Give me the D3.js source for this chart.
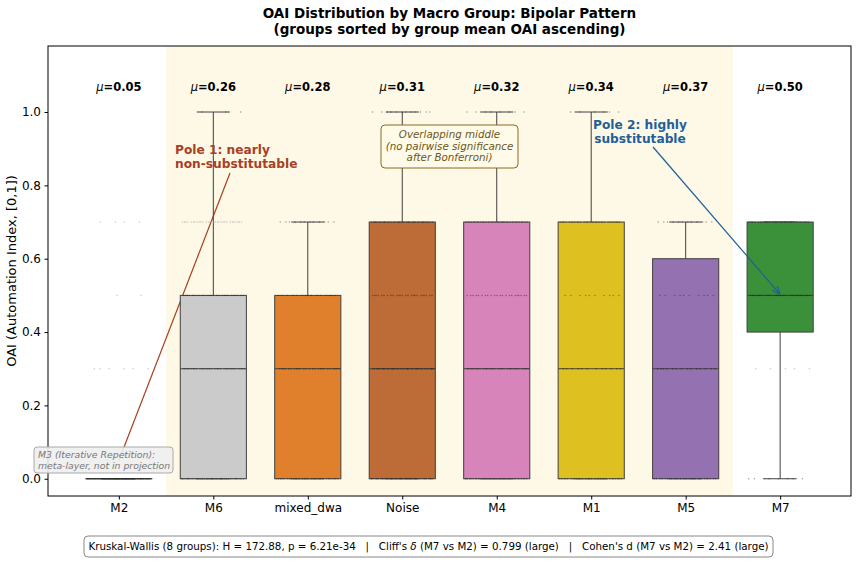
<!DOCTYPE html>
<html>
<head>
<meta charset="utf-8">
<script src="https://cdn.jsdelivr.net/npm/d3@7"></script>
<style>
  body { margin: 0; background: #fff; }
  svg { font-family: "DejaVu Sans", sans-serif; }
</style>
</head>
<body>
<script>
const groups = ['M2', 'M6', 'mixed_dwa', 'Noise', 'M4', 'M1', 'M5', 'M7'];
const means = [0.05, 0.26, 0.28, 0.31, 0.32, 0.34, 0.37, 0.50];
const q1 = [0, 0, 0, 0, 0, 0, 0, 0.4];
const medians = [0, 0.3, 0.3, 0.3, 0.3, 0.3, 0.3, 0.5];
const q3 = [0, 0.5, 0.5, 0.7, 0.7, 0.7, 0.6, 0.7];
const whiskLo = [0, 0, 0, 0, 0, 0, 0, 0];
const whiskHi = [0, 1.0, 0.7, 1.0, 1.0, 1.0, 0.7, 0.7];
const colors = ['#ffffff', '#cbcbcb', '#e0802d', '#bd6b37', '#d684ba', '#dec121', '#9471b0', '#3b913a'];
// strip points: how many observations sit at each OAI level
const levels = [0, 0.3, 0.5, 0.7, 1.0];
const counts = [
  [60, 6, 2, 4, 0],
  [40, 30, 25, 30, 3],
  [30, 25, 15, 12, 0],
  [45, 40, 25, 40, 12],
  [35, 30, 22, 35, 8],
  [30, 12, 10, 30, 6],
  [25, 14, 10, 12, 0],
  [8, 5, 30, 30, 0]
];
const outsideColor = '#bbbbbb';

const width = 858;
const height = 564;
const margin = { top: 46, right: 7, bottom: 68, left: 48 };

const x = d3.scalePoint()
  .domain(groups)
  .range([margin.left, width - margin.right])
  .padding(0.75);
const step = x.step();
const boxW = step * 0.7;

const y = d3.scaleLinear()
  .domain([-0.047, 1.18])
  .range([height - margin.bottom, margin.top]);

const svg = d3.select('body').append('svg')
  .attr('width', width)
  .attr('height', height);

// middle shading
svg.append('rect')
  .attr('x', x('M2') + step / 2)
  .attr('y', margin.top)
  .attr('width', x('M5') - x('M2'))
  .attr('height', height - margin.bottom - margin.top)
  .attr('fill', '#fef9e7');

// Pole 1 line (drawn under boxes)
svg.append('line')
  .attr('x1', 230).attr('y1', 173)
  .attr('x2', x('M2')).attr('y2', y(0.05))
  .attr('stroke', '#a6401f')
  .attr('stroke-width', 1.2);

const g = svg.append('g')
  .selectAll('g')
  .data(groups)
  .join('g')
  .attr('transform', d => `translate(${x(d)},0)`);

const edge = '#3f3f3f';

// whiskers
g.append('line')
  .attr('y1', (d, i) => y(q3[i])).attr('y2', (d, i) => y(whiskHi[i]))
  .attr('stroke', edge).attr('stroke-width', 1);
g.append('line')
  .attr('y1', (d, i) => y(q1[i])).attr('y2', (d, i) => y(whiskLo[i]))
  .attr('stroke', edge).attr('stroke-width', 1);
g.append('line')
  .attr('x1', -boxW / 4).attr('x2', boxW / 4)
  .attr('y1', (d, i) => y(whiskHi[i])).attr('y2', (d, i) => y(whiskHi[i]))
  .attr('stroke', edge).attr('stroke-width', 1);
g.append('line')
  .attr('x1', -boxW / 4).attr('x2', boxW / 4)
  .attr('y1', (d, i) => y(whiskLo[i])).attr('y2', (d, i) => y(whiskLo[i]))
  .attr('stroke', edge).attr('stroke-width', 1);

// boxes
g.append('rect')
  .attr('x', -boxW / 2)
  .attr('width', boxW)
  .attr('y', (d, i) => y(q3[i]))
  .attr('height', (d, i) => Math.max(0.01, y(q1[i]) - y(q3[i])))
  .attr('fill', (d, i) => colors[i])
  .attr('stroke', edge)
  .attr('stroke-width', 1);
g.append('line')
  .attr('x1', -boxW / 2).attr('x2', boxW / 2)
  .attr('y1', (d, i) => y(medians[i])).attr('y2', (d, i) => y(medians[i]))
  .attr('stroke', edge).attr('stroke-width', 1);

// strip points, spread with a fixed golden-ratio sequence
g.each(function (d, i) {
  const pts = [];
  levels.forEach((v, k) => {
    for (let j = 0; j < counts[i][k]; j++) pts.push({ v, j });
  });
  const outside = v => (v > q3[i] || v < q1[i]) && v !== whiskHi[i] && v !== whiskLo[i];
  d3.select(this).selectAll('circle')
    .data(pts)
    .join('circle')
    .attr('cx', p => (((p.j * 0.618 + p.v * 3.7) % 1) - 0.5) * boxW * 0.95)
    .attr('cy', p => y(p.v))
    .attr('r', 0.75)
    .attr('fill', p => outside(p.v) ? outsideColor : '#111')
    .attr('opacity', p => outside(p.v) ? 0.8 : 0.4);
});

// mean labels
const mu = svg.append('g')
  .selectAll('text')
  .data(groups)
  .join('text')
  .attr('x', d => x(d))
  .attr('y', 91)
  .attr('text-anchor', 'middle')
  .attr('font-size', 11.5)
  .attr('font-weight', 'bold');
mu.append('tspan').attr('font-style', 'italic').attr('font-weight', 'normal').text('μ');
mu.append('tspan').text((d, i) => '=' + means[i].toFixed(2));

// frame
svg.append('rect')
  .attr('x', margin.left).attr('y', margin.top)
  .attr('width', width - margin.left - margin.right)
  .attr('height', height - margin.top - margin.bottom)
  .attr('fill', 'none')
  .attr('stroke', '#000')
  .attr('stroke-width', 1);

// axes
const yAxis = g => g
  .attr('transform', `translate(${margin.left},0)`)
  .call(d3.axisLeft(y).tickValues([0, 0.2, 0.4, 0.6, 0.8, 1.0]).tickFormat(d3.format('.1f')).tickSize(3.5).tickPadding(3.5))
  .call(g => g.select('.domain').remove())
  .call(g => g.selectAll('text').attr('font-size', 12).attr('fill', '#000').attr('font-family', 'DejaVu Sans'));
const xAxis = g => g
  .attr('transform', `translate(0,${height - margin.bottom})`)
  .call(d3.axisBottom(x).tickSize(3.5).tickPadding(3.5))
  .call(g => g.select('.domain').remove())
  .call(g => g.selectAll('text').attr('font-size', 12).attr('fill', '#000').attr('font-family', 'DejaVu Sans'));
svg.append('g').call(yAxis);
svg.append('g').call(xAxis);

svg.append('text')
  .attr('transform', `translate(16,${(margin.top + height - margin.bottom) / 2}) rotate(-90)`)
  .attr('text-anchor', 'middle')
  .attr('font-size', 13)
  .text('OAI (Automation Index, [0,1])');

// title
const cx = (margin.left + width - margin.right) / 2;
svg.append('text').attr('x', cx).attr('y', 18).attr('text-anchor', 'middle')
  .attr('font-size', 13.5).attr('font-weight', 'bold')
  .text('OAI Distribution by Macro Group: Bipolar Pattern');
svg.append('text').attr('x', cx).attr('y', 34).attr('text-anchor', 'middle')
  .attr('font-size', 13.5).attr('font-weight', 'bold')
  .text('(groups sorted by group mean OAI ascending)');

// Pole 1 text
const p1 = svg.append('text').attr('font-size', 12.2).attr('font-weight', 'bold').attr('fill', '#a6401f');
p1.append('tspan').attr('x', 175).attr('y', 154).text('Pole 1: nearly');
p1.append('tspan').attr('x', 175).attr('y', 168).text('non-substitutable');

// M3 note
svg.append('rect')
  .attr('x', 34).attr('y', 447).attr('width', 139).attr('height', 26)
  .attr('rx', 3)
  .attr('fill', '#eeeeee').attr('fill-opacity', 0.9)
  .attr('stroke', '#aaaaaa');
const m3 = svg.append('text').attr('font-size', 9.3).attr('font-style', 'italic').attr('fill', '#777');
m3.append('tspan').attr('x', 38).attr('y', 458).text('M3 (Iterative Repetition):');
m3.append('tspan').attr('x', 38).attr('y', 469).text('meta-layer, not in projection');

// middle note
svg.append('rect')
  .attr('x', 381).attr('y', 125).attr('width', 137).attr('height', 43)
  .attr('rx', 4)
  .attr('fill', '#fffbe8')
  .attr('stroke', '#8b6a1e');
const mid = svg.append('text').attr('font-size', 10.3).attr('font-style', 'italic').attr('fill', '#6b5620').attr('text-anchor', 'middle');
['Overlapping middle', '(no pairwise significance', 'after Bonferroni)'].forEach((t, k) => {
  mid.append('tspan').attr('x', 449.5).attr('y', 138 + k * 11.5).text(t);
});

// Pole 2
svg.append('defs').append('marker')
  .attr('id', 'ah')
  .attr('viewBox', '0 0 10 10')
  .attr('refX', 10).attr('refY', 5)
  .attr('markerWidth', 7).attr('markerHeight', 7)
  .attr('orient', 'auto')
  .append('path')
  .attr('d', 'M0,1 L10,5 L0,9')
  .attr('fill', 'none')
  .attr('stroke', '#1f5f99')
  .attr('stroke-width', 1.5);
svg.append('line')
  .attr('x1', 653).attr('y1', 147)
  .attr('x2', x('M7')).attr('y2', y(0.5) - 1)
  .attr('stroke', '#1f5f99')
  .attr('stroke-width', 1.2)
  .attr('marker-end', 'url(#ah)');
const p2 = svg.append('text').attr('font-size', 12.2).attr('font-weight', 'bold').attr('fill', '#1f5f99').attr('text-anchor', 'middle');
p2.append('tspan').attr('x', 640).attr('y', 129).text('Pole 2: highly');
p2.append('tspan').attr('x', 640).attr('y', 143).text('substitutable');

// stats box
svg.append('rect')
  .attr('x', 84).attr('y', 536).attr('width', 689).attr('height', 21)
  .attr('rx', 4)
  .attr('fill', '#fff')
  .attr('stroke', '#888');
const st = svg.append('text').attr('x', 428.5).attr('y', 550).attr('text-anchor', 'middle').attr('font-size', 10.3).attr('xml:space', 'preserve');
st.append('tspan').text("Kruskal-Wallis (8 groups): H = 172.88, p = 6.21e-34   |   Cliff's ");
st.append('tspan').attr('font-style', 'italic').text('δ');
st.append('tspan').text(" (M7 vs M2) = 0.799 (large)   |   Cohen's d (M7 vs M2) = 2.41 (large)");
</script>
</body>
</html>
